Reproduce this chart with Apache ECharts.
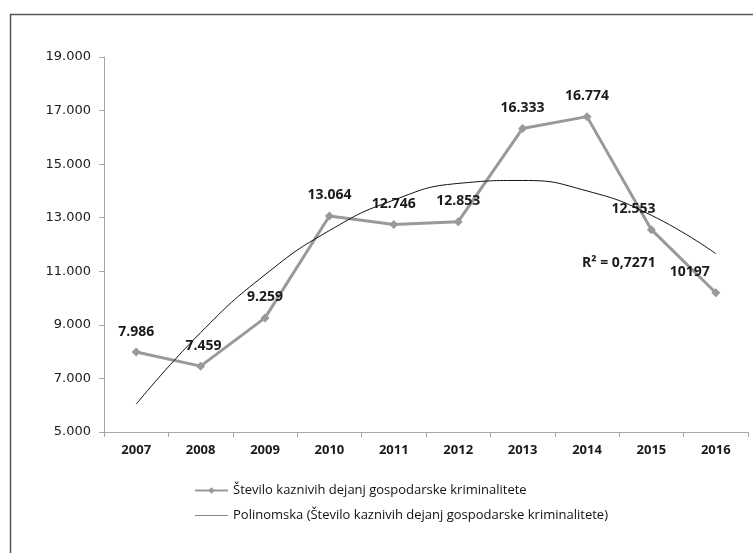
<!DOCTYPE html>
<html>
<head>
<meta charset="utf-8">
<script src="https://cdn.jsdelivr.net/npm/echarts@6/dist/echarts.min.js"></script>
<style>html,body{margin:0;padding:0;background:#fff}#c{width:753px;height:553px}</style>
</head>
<body>
<div id="c"></div>
<script>
const categories = ['2007','2008','2009','2010','2011','2012','2013','2014','2015','2016'];
const values = [7986, 7459, 9259, 13064, 12746, 12853, 16333, 16774, 12553, 10197];
const valueLabels = ['7.986','7.459','9.259','13.064','12.746','12.853','16.333','16.774','12.553','10197'];
const trendValues = [6040, 8710, 10870, 12520, 13660, 14280, 14390, 14000, 13090, 11660];
const seriesName = 'Število kaznivih dejanj gospodarske kriminalitete';
const trendName = 'Polinomska (Število kaznivih dejanj gospodarske kriminalitete)';
const rSquaredText = 'R² = 0,7271';

const labelOffsets = [[0,0],[3,0],[0,0],[0,0],[0,0],[0,0],[0,0],[0,0],[-18,0],[-26,0]];

const chart = echarts.init(document.getElementById('c'), null, {renderer:'canvas'});
const fmt = v => String(v).replace(/\B(?=(\d{3})+(?!\d))/g, '.');

chart.setOption({
  animation: false,
  backgroundColor: '#fff',
  grid: {left: 104, right: 5, top: 57, bottom: 121},
  xAxis: {
    type: 'category',
    data: categories,
    boundaryGap: true,
    axisLine: {lineStyle: {color: '#a6a6a6', width: 1}},
    axisTick: {show: true, length: 5, lineStyle: {color: '#a6a6a6'}},
    axisLabel: {color: '#1a1a1a', fontFamily: 'Open Sans', fontWeight: 'bold', fontSize: 13, margin: 12}
  },
  yAxis: {
    type: 'value',
    min: 5000, max: 19000, interval: 2000,
    axisLine: {show: true, lineStyle: {color: '#a6a6a6', width: 1}},
    axisTick: {show: true, length: 5, lineStyle: {color: '#a6a6a6'}},
    splitLine: {show: false},
    axisLabel: {color: '#1a1a1a', fontFamily: 'DejaVu Sans', fontSize: 13, margin: 13, formatter: v => fmt(v)}
  },
  legend: {
    orient: 'vertical',
    left: 189, top: 479,
    itemWidth: 33, itemHeight: 8, itemGap: 12,
    symbolKeepAspect: true,
    textStyle: {color: '#111', fontFamily: 'Open Sans', fontSize: 13},
    data: [
      {name: seriesName},
      {name: trendName, icon: 'path://M0,0h66v1.2h-66z'}
    ]
  },
  series: [
    {
      name: trendName,
      type: 'line',
      data: trendValues,
      smooth: true,
      symbol: 'none',
      lineStyle: {color: '#111', width: 1},
      itemStyle: {color: '#111'},
      z: 3
    },
    {
      name: seriesName,
      type: 'line',
      data: values.map((v, i) => ({
        value: v,
        label: {offset: labelOffsets[i], formatter: () => valueLabels[i]}
      })),
      symbol: 'diamond',
      symbolSize: 9,
      lineStyle: {color: '#999', width: 3},
      itemStyle: {color: '#999'},
      label: {
        show: true, position: 'top', distance: 9,
        color: '#1a1a1a', fontFamily: 'Open Sans', fontWeight: 'bold', fontSize: 14
      },
      z: 2
    }
  ],
  graphic: [
    {type: 'rect', left: 8, top: 12, shape: {width: 800, height: 600}, style: {fill: 'none', stroke: '#555', lineWidth: 1.5}, silent: true},
    {type: 'text', left: 582, top: 256, style: {text: rSquaredText, fill: '#1a1a1a', font: 'bold 14px "Open Sans"'}}
  ]
});
</script>
</body>
</html>
